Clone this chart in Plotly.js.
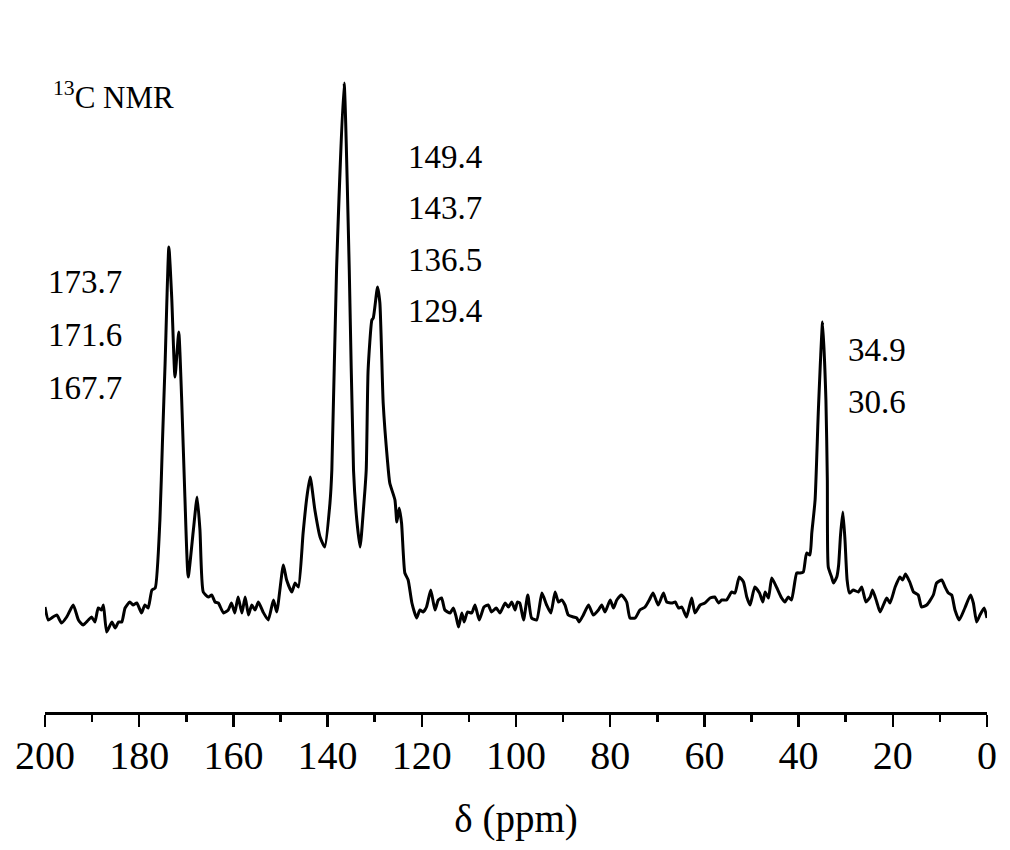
<!DOCTYPE html>
<html>
<head>
<meta charset="utf-8">
<script src="https://cdn.plot.ly/plotly-3.0.1.min.js"></script>
<style>
html,body{margin:0;padding:0;background:#fff;}
#chart{width:1010px;height:850px;}
</style>
</head>
<body>
<div id="chart"></div>
<script>
// Chemical shift (ppm)
const shiftPpm = [
200.0,199.3,198.6,197.5,196.5,195.4,194.0,192.9,191.9,190.8,190.1,189.4,188.7,188.0,187.6,186.9,185.8,185.1,184.4,183.7,
183.0,182.0,181.3,180.5,179.5,178.8,178.1,177.3,176.6,175.6,175.05,174.5,173.7,173.1,172.4,171.6,171.0,170.3,169.6,168.5,
167.7,167.1,166.4,165.3,164.6,163.9,163.2,162.1,161.1,160.4,159.7,159.0,158.2,157.5,156.8,156.1,155.4,154.7,153.7,152.6,
151.5,150.8,149.4,148.7,147.6,146.9,146.2,145.2,144.4,143.7,142.7,141.6,140.6,139.5,139.1,138.1,136.5,135.4,134.5,133.8,
133.1,132.4,131.8,131.4,130.6,130.3,129.4,128.9,128.2,127.3,126.8,125.7,125.3,124.8,124.3,123.6,122.9,122.1,121.1,120.4,
119.7,119.0,118.1,117.2,116.5,115.8,115.1,114.0,113.3,112.7,112.2,111.5,111.0,110.3,109.4,108.7,107.8,106.8,105.9,105.2,
104.2,103.4,102.3,101.6,100.9,100.2,99.7,99.2,98.4,97.5,96.7,95.6,94.5,93.5,92.6,91.7,91.0,90.3,89.6,88.9,
87.8,87.1,86.6,85.7,84.6,83.6,82.5,81.8,81.1,80.0,79.3,78.6,77.6,76.5,75.8,74.7,73.7,72.6,71.7,70.9,
69.8,68.7,68.0,66.9,66.2,65.5,64.8,63.8,62.7,62.0,60.9,59.9,58.8,57.8,57.0,56.3,55.3,54.2,53.5,52.6,
51.7,51.0,50.3,49.3,48.3,47.6,47.1,46.4,45.7,44.6,43.6,42.9,42.2,41.5,40.4,39.7,39.0,38.3,37.6,37.2,
36.5,35.8,34.9,34.2,33.9,33.7,33.0,32.6,31.9,31.5,31.1,30.6,30.15,29.7,29.2,28.4,27.3,26.6,25.7,24.8,
24.3,23.4,22.7,21.3,20.6,19.5,18.5,17.9,17.3,16.4,15.6,14.6,13.9,12.8,11.4,10.7,9.6,8.9,8.2,7.5,
6.8,5.9,4.7,3.5,2.9,2.2,1.5,0.6,0.0
];
// Intensity (a.u.)
const intensity = [
8,-5,-3,0,-8,-2,10,-5,-10,-5,-2,-7,7,5,10,-17,-7,-13,-7,-7,
7,13,10,12,2,10,7,25,27,95,175,252,368,318,238,283,218,118,38,85,
118,85,23,18,20,13,12,2,5,12,2,18,2,18,0,10,5,13,3,-5,
15,3,50,35,23,32,28,82,118,138,105,78,68,112,145,345,532,345,145,95,
68,105,145,245,295,297,328,312,212,155,132,115,93,107,92,42,35,12,-3,5,
3,8,25,5,15,17,5,2,7,-2,-12,2,-7,3,2,10,-5,8,10,3,
7,2,12,8,13,5,13,12,-5,20,-3,-5,22,10,2,23,13,15,10,0,
-2,-3,-7,0,10,0,5,10,3,15,7,15,20,13,-3,-3,5,8,15,22,
10,22,13,12,13,7,8,-2,17,2,10,12,17,18,12,15,15,23,22,38,
33,18,10,28,22,13,23,17,37,27,17,13,18,15,42,42,43,62,60,82,
115,205,293,215,135,48,38,32,38,50,80,103,75,35,22,25,23,28,13,18,
25,13,3,17,12,28,38,35,41,33,23,20,8,10,20,32,35,28,22,20,
5,-5,7,20,12,-7,0,7,-3
];
const tickValues = [200,180,160,140,120,100,80,60,40,20,0];
const tickLabels = ["200","180","160","140","120","100","80","60","40","20","0"];
const peakLabelsLeft = ["173.7","171.6","167.7"];
const peakLabelsMid = ["149.4","143.7","136.5","129.4"];
const peakLabelsRight = ["34.9","30.6"];

const serif = "Liberation Serif, Times New Roman, serif";

const trace = {
  x: shiftPpm, y: intensity, type: "scatter", mode: "lines",
  line: {color: "#000", width: 3, shape: "spline", smoothing: 0.5},
  hoverinfo: "x+y"
};

const annFont = {family: serif, size: 33, color: "#000"};
const annotations = [];
function addGroup(labels, xp, yTop, step) {
  labels.forEach((t, i) => {
    annotations.push({text: t, xref: "paper", yref: "paper", x: xp, y: yTop - i*step,
      xanchor: "left", yanchor: "middle", showarrow: false, font: annFont});
  });
}
addGroup(peakLabelsLeft, 0.001, 0.640, 0.0789);
addGroup(peakLabelsMid, 0.383, 0.826, 0.0766);
addGroup(peakLabelsRight, 0.850, 0.5387, 0.0774);
annotations.push({text: "<sup>13</sup>C NMR", xref: "paper", yref: "paper", x: 0.006, y: 0.918,
  xanchor: "left", yanchor: "middle", showarrow: false, font: {family: serif, size: 31, color: "#000"}});

const layout = {
  width: 1010, height: 850,
  margin: {l: 45, r: 23, t: 40, b: 138},
  paper_bgcolor: "#fff", plot_bgcolor: "#fff",
  showlegend: false,
  xaxis: {
    range: [200, 0], autorange: false,
    showgrid: false, zeroline: false,
    showline: true, linecolor: "#000", linewidth: 2.5,
    ticks: "outside", ticklen: 12, tickwidth: 2.5, tickcolor: "#000",
    tickvals: tickValues, ticktext: tickLabels,
    ticklabelstandoff: -6,
    tickfont: {family: serif, size: 40, color: "#000"},
    minor: {dtick: 10, ticks: "outside", ticklen: 7, tickwidth: 2.5, tickcolor: "#000", showgrid: false},
    title: {text: "δ (ppm)", font: {family: serif, size: 39, color: "#000"}, standoff: 28}
  },
  yaxis: {
    range: [-97, 575], autorange: false, visible: false, showgrid: false, zeroline: false
  },
  annotations: annotations
};

Plotly.newPlot("chart", [trace], layout, {displayModeBar: false, staticPlot: true});
</script>
</body>
</html>
